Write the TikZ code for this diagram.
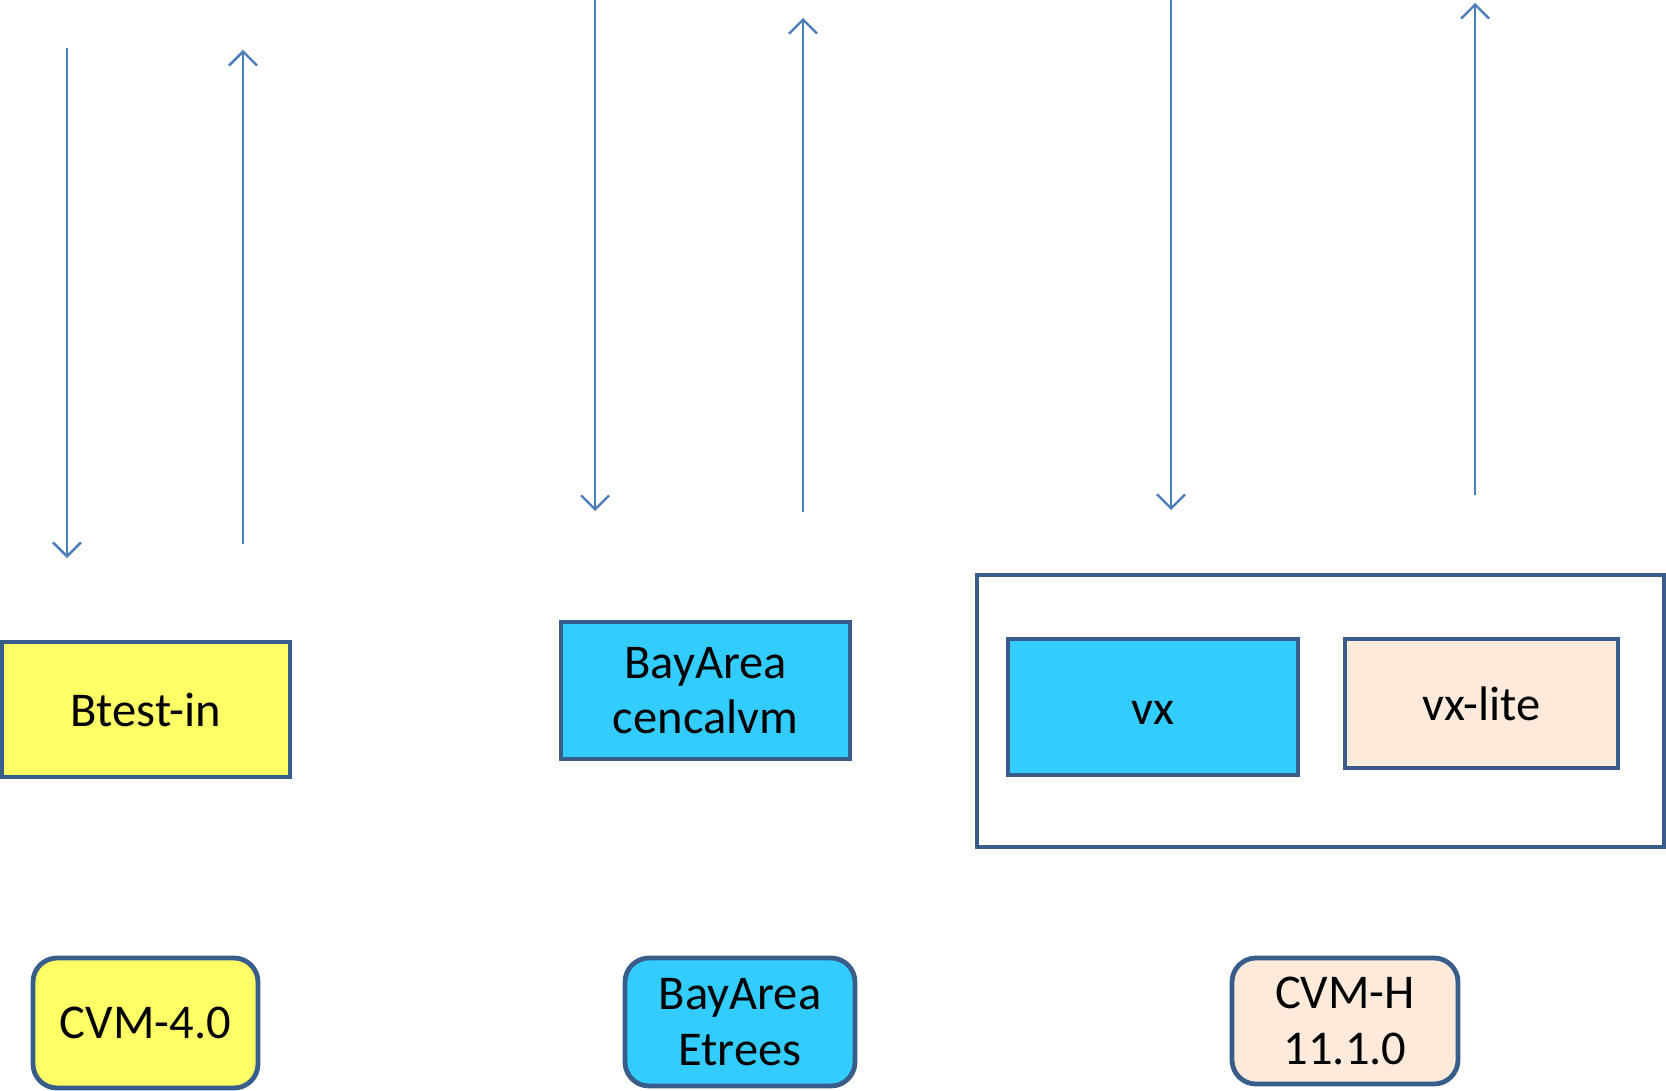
\documentclass[tikz,border=0pt]{standalone}
\usepackage{fontspec}
\setmainfont{Carlito}
\usetikzlibrary{arrows.meta}
\definecolor{bord}{RGB}{56,93,138}
\definecolor{arr}{RGB}{74,126,187}
\definecolor{yel}{RGB}{255,255,102}
\definecolor{cyn}{RGB}{51,204,255}
\definecolor{pch}{RGB}{253,234,218}
\tikzset{
  box/.style={draw=bord, line width=4.8pt, inner sep=0pt, align=center,
    font=\fontsize{48.5}{55.5}\selectfont, text=black},
  rbox/.style={box, rounded corners=24pt},
  flow/.style={draw=arr, line width=2.3pt, -{Straight Barb[length=14pt,width=28pt,line width=2.3pt]}}
}
\begin{document}
\begin{tikzpicture}[x=1pt,y=-1pt]
\useasboundingbox (0,0) rectangle (1666,1091);
% boxes
\node[box, fill=yel, minimum width=288pt, minimum height=135pt] (btest) at (146,709.5) {Btest-in};
\node[box, fill=cyn, minimum width=289pt, minimum height=137pt] (cencal) at (705.5,690.5) {BayArea\\cencalvm};
\node[box, fill=white, minimum width=687pt, minimum height=272pt] (outer) at (1320.5,711) {};
\node[box, fill=cyn, minimum width=290pt, minimum height=136pt] (vx) at (1153,707) {\raisebox{-17pt}[0pt][0pt]{vx}};
\node[box, fill=pch, minimum width=273pt, minimum height=129pt] (vxlite) at (1481.5,703.5) {vx-lite};
\node[rbox, fill=yel, minimum width=225pt, minimum height=130pt] (cvm4) at (145.5,1023) {CVM-4.0};
\node[rbox, fill=cyn, minimum width=230pt, minimum height=128pt] (etrees) at (740,1022) {BayArea\\Etrees};
\node[rbox, fill=pch, minimum width=226pt, minimum height=126pt] (cvmh) at (1345,1021) {CVM-H\\11.1.0};
% arrow ends
\coordinate (a1s) at (67,48);   \coordinate (a1e) at (67,558);
\coordinate (a2s) at (243,544); \coordinate (a2e) at (243,50);
\coordinate (a3s) at (595,0);   \coordinate (a3e) at (595,511);
\coordinate (a4s) at (803,512); \coordinate (a4e) at (803,18);
\coordinate (a5s) at (1171,0);  \coordinate (a5e) at (1171,510);
\coordinate (a6s) at (1475,495); \coordinate (a6e) at (1475,3);
\draw[flow] (a1s) -- (a1e);
\draw[flow] (a2s) -- (a2e);
\draw[flow] (a3s) -- (a3e);
\draw[flow] (a4s) -- (a4e);
\draw[flow] (a5s) -- (a5e);
\draw[flow] (a6s) -- (a6e);
\end{tikzpicture}
\end{document}
